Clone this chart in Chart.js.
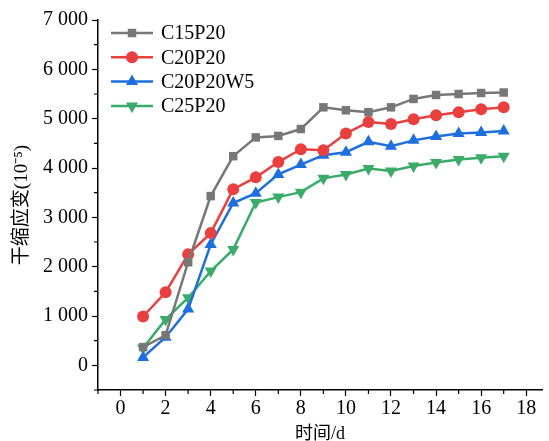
<!DOCTYPE html>
<html>
<head>
<meta charset="utf-8">
<script src="https://cdn.jsdelivr.net/npm/chart.js@4"></script>
<style>
  html, body { margin: 0; padding: 0; background: #fff; }
  #wrap { width: 549px; height: 441px; }
</style>
</head>
<body>
<div id="wrap"><canvas id="chart"></canvas></div>
<script>
const days = [1, 2, 3, 4, 5, 6, 7, 8, 9, 10, 11, 12, 13, 14, 15, 16, 17];
const seriesNames = [`C15P20`, `C20P20`, `C20P20W5`, `C25P20`];
const c15p20 = [370, 610, 2090, 3430, 4240, 4620, 4650, 4790, 5230, 5170, 5130, 5230, 5400, 5480, 5500, 5520, 5530];
const c20p20 = [990, 1480, 2250, 2680, 3570, 3810, 4120, 4380, 4360, 4700, 4930, 4890, 4990, 5070, 5130, 5190, 5230];
const c20p20w5 = [160, 570, 1140, 2450, 3290, 3490, 3870, 4070, 4260, 4320, 4530, 4440, 4560, 4640, 4700, 4720, 4750];
const c25p20 = [350, 930, 1370, 1910, 2350, 3300, 3410, 3510, 3790, 3870, 3990, 3940, 4040, 4110, 4170, 4210, 4240];
const xTicks = [0, 2, 4, 6, 8, 10, 12, 14, 16, 18];
const yTicks = [0, 1000, 2000, 3000, 4000, 5000, 6000, 7000];
const xMinor = [-1, 1, 3, 5, 7, 9, 11, 13, 15, 17];
const yMinor = [-500, 500, 1500, 2500, 3500, 4500, 5500, 6500];

const colors = [`#777777`, `#ea3f3f`, `#1e6fde`, `#3aab69`];
const styles = [
    {pointStyle: `rect`, radius: 6, rotation: 0},
    {pointStyle: `circle`, radius: 6, rotation: 0},
    {pointStyle: `triangle`, radius: 7, rotation: 0},
    {pointStyle: `triangle`, radius: 7, rotation: 180}
];
const allValues = [c15p20, c20p20, c20p20w5, c25p20];

const serif = `"Liberation Serif", "Times New Roman", "Noto Sans CJK SC", serif`;

function fmt(v) {
    // thousands separated by a space, like "7 000"
    return String(v).replace(/\B(?=(\d{3})+(?!\d))/g, ` `);
}

const datasets = allValues.map((vals, i) => ({
    label: seriesNames[i],
    data: days.map((d, j) => ({x: d, y: vals[j]})),
    borderColor: colors[i],
    backgroundColor: colors[i],
    borderWidth: 2.5,
    pointStyle: styles[i].pointStyle,
    pointRadius: styles[i].radius,
    pointRotation: styles[i].rotation,
    pointBorderWidth: 0,
    tension: 0
}));

// minor ticks + legend inside plot area
const extras = {
    id: `extras`,
    afterDraw(chart) {
        const ctx = chart.ctx;
        const xs = chart.scales.x, ys = chart.scales.y;
        ctx.save();
        ctx.strokeStyle = `#000`;
        ctx.lineWidth = 1.2;
        ctx.beginPath();
        for (const v of xMinor) {
            const px = xs.getPixelForValue(v);
            ctx.moveTo(px, xs.top);
            ctx.lineTo(px, xs.top + 4);
        }
        for (const v of yMinor) {
            const py = ys.getPixelForValue(v);
            ctx.moveTo(ys.right, py);
            ctx.lineTo(ys.right - 4, py);
        }
        ctx.stroke();

        // legend
        const x0 = chart.chartArea.left + 13;
        let y = chart.chartArea.top + 13;
        chart.data.datasets.forEach((ds, i) => {
            ctx.strokeStyle = ds.borderColor;
            ctx.lineWidth = 2.5;
            ctx.beginPath();
            ctx.moveTo(x0, y);
            ctx.lineTo(x0 + 42, y);
            ctx.stroke();
            ctx.fillStyle = ds.backgroundColor;
            Chart.helpers.drawPoint(ctx, {
                pointStyle: ds.pointStyle,
                radius: ds.pointRadius,
                rotation: ds.pointRotation,
                borderWidth: 0
            }, x0 + 21, y);
            ctx.fillStyle = `#000`;
            ctx.font = `20px ` + serif;
            ctx.textBaseline = `middle`;
            ctx.fillText(ds.label, x0 + 50, y + 1);
            y += 24.3;
        });
        ctx.restore();
    }
};

new Chart(document.getElementById(`chart`), {
    type: `line`,
    data: {datasets},
    plugins: [extras],
    options: {
        responsive: true,
        maintainAspectRatio: false,
        animation: false,
        layout: {padding: {top: 20, right: 0, left: 0, bottom: 0}},
        plugins: {legend: {display: false}, tooltip: {enabled: false}},
        scales: {
            x: {
                type: `linear`,
                min: -1,
                max: 18.7,
                afterBuildTicks: s => { s.ticks = xTicks.map(v => ({value: v})); },
                afterFit: s => { s.height = 51; },
                border: {color: `#000`, width: 1.5},
                grid: {drawOnChartArea: false, drawTicks: true, tickLength: 6, tickColor: `#000`, tickWidth: 1.2},
                ticks: {color: `#000`, font: {family: serif, size: 20}, padding: 1, maxRotation: 0, autoSkip: false},
                title: {display: true, text: `时间/d`, color: `#000`, font: {family: serif, size: 18}, padding: {top: 0, bottom: -4}}
            },
            y: {
                type: `linear`,
                min: -500,
                max: 7000,
                afterBuildTicks: s => { s.ticks = yTicks.map(v => ({value: v})); },
                afterFit: s => { s.width = 98; },
                border: {color: `#000`, width: 1.5},
                grid: {drawOnChartArea: false, drawTicks: true, tickLength: 6, tickColor: `#000`, tickWidth: 1.2},
                ticks: {color: `#000`, font: {family: serif, size: 20}, padding: 4, autoSkip: false, callback: v => fmt(v)},
                title: {display: true, text: `干缩应变(10⁻⁵)`, color: `#000`, font: {family: serif, size: 19}, padding: {top: 11, bottom: 0}}
            }
        }
    }
});
</script>
</body>
</html>
